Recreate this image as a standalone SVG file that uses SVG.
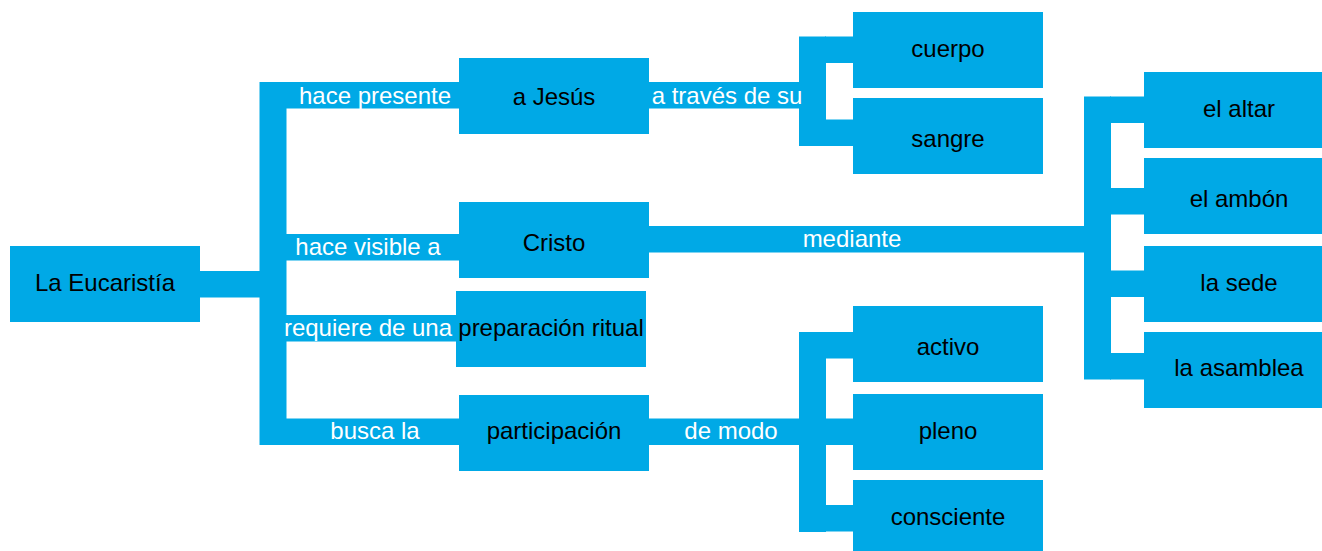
<svg xmlns="http://www.w3.org/2000/svg" width="1322" height="551" viewBox="0 0 1322 551">
<style>
.bar{fill:#00A9E6}
.box{fill:#00A9E6}
.nt{font-family:"Liberation Sans",Arial,sans-serif;font-size:24px;fill:#000;text-anchor:middle}
.lt{font-family:"Liberation Sans",Arial,sans-serif;font-size:24px;fill:#fff;text-anchor:middle}
</style>
<rect width="1322" height="551" fill="#fff"/>
<g id="connectors">
<rect class="bar" x="199" y="271" width="62" height="26.5"/>
<rect class="bar" x="259.5" y="82" width="27" height="363"/>
<rect class="bar" x="285" y="82" width="175" height="26.5"/>
<rect class="bar" x="285" y="234" width="175" height="26.5"/>
<rect class="bar" x="285" y="315" width="172" height="26.5"/>
<rect class="bar" x="285" y="418.5" width="175" height="26.5"/>
<rect class="bar" x="648" y="82" width="152" height="26.5"/>
<rect class="bar" x="799" y="36.5" width="27" height="109.5"/>
<rect class="bar" x="825" y="36.5" width="29" height="26.5"/>
<rect class="bar" x="825" y="119.5" width="29" height="26.5"/>
<rect class="bar" x="648" y="226" width="437" height="26.5"/>
<rect class="bar" x="1084" y="96.5" width="27" height="283"/>
<rect class="bar" x="1110" y="96.5" width="35" height="26.5"/>
<rect class="bar" x="1110" y="188" width="35" height="26.5"/>
<rect class="bar" x="1110" y="270.5" width="35" height="26.5"/>
<rect class="bar" x="1110" y="353" width="35" height="26.5"/>
<rect class="bar" x="648" y="418.5" width="152" height="26.5"/>
<rect class="bar" x="799" y="332" width="27" height="200"/>
<rect class="bar" x="825" y="332" width="29" height="26.5"/>
<rect class="bar" x="825" y="418.5" width="29" height="26.5"/>
<rect class="bar" x="825" y="505" width="29" height="26.5"/>
<text class="lt" x="375" y="104">hace presente</text>
<text class="lt" x="368" y="254.5">hace visible a</text>
<text class="lt" x="368" y="336">requiere de una</text>
<text class="lt" x="375" y="439">busca la</text>
<text class="lt" x="727" y="104">a través de su</text>
<text class="lt" x="852" y="247">mediante</text>
<text class="lt" x="731" y="439">de modo</text>
</g>
<g id="n-eucaristia"><rect class="box" x="10" y="246" width="190" height="76"/><text class="nt" x="105" y="291">La Eucaristía</text></g>
<g id="n-jesus"><rect class="box" x="459" y="58" width="190" height="76"/><text class="nt" x="554" y="105">a Jesús</text></g>
<g id="n-cristo"><rect class="box" x="459" y="202" width="190" height="76"/><text class="nt" x="554" y="251">Cristo</text></g>
<g id="n-preparacion"><rect class="box" x="456" y="291" width="190" height="76"/><text class="nt" x="551" y="336">preparación ritual</text></g>
<g id="n-participacion"><rect class="box" x="459" y="395" width="190" height="76"/><text class="nt" x="554" y="439">participación</text></g>
<g id="n-cuerpo"><rect class="box" x="853" y="12" width="190" height="76"/><text class="nt" x="948" y="57">cuerpo</text></g>
<g id="n-sangre"><rect class="box" x="853" y="98" width="190" height="76"/><text class="nt" x="948" y="147">sangre</text></g>
<g id="n-activo"><rect class="box" x="853" y="306" width="190" height="76"/><text class="nt" x="948" y="355">activo</text></g>
<g id="n-pleno"><rect class="box" x="853" y="394" width="190" height="76"/><text class="nt" x="948" y="439">pleno</text></g>
<g id="n-consciente"><rect class="box" x="853" y="480" width="190" height="76"/><text class="nt" x="948" y="525">consciente</text></g>
<g id="n-altar"><rect class="box" x="1144" y="72" width="190" height="76"/><text class="nt" x="1239" y="117">el altar</text></g>
<g id="n-ambon"><rect class="box" x="1144" y="158" width="190" height="76"/><text class="nt" x="1239" y="207">el ambón</text></g>
<g id="n-sede"><rect class="box" x="1144" y="246" width="190" height="76"/><text class="nt" x="1239" y="291">la sede</text></g>
<g id="n-asamblea"><rect class="box" x="1144" y="332" width="190" height="76"/><text class="nt" x="1239" y="376">la asamblea</text></g>
</svg>
